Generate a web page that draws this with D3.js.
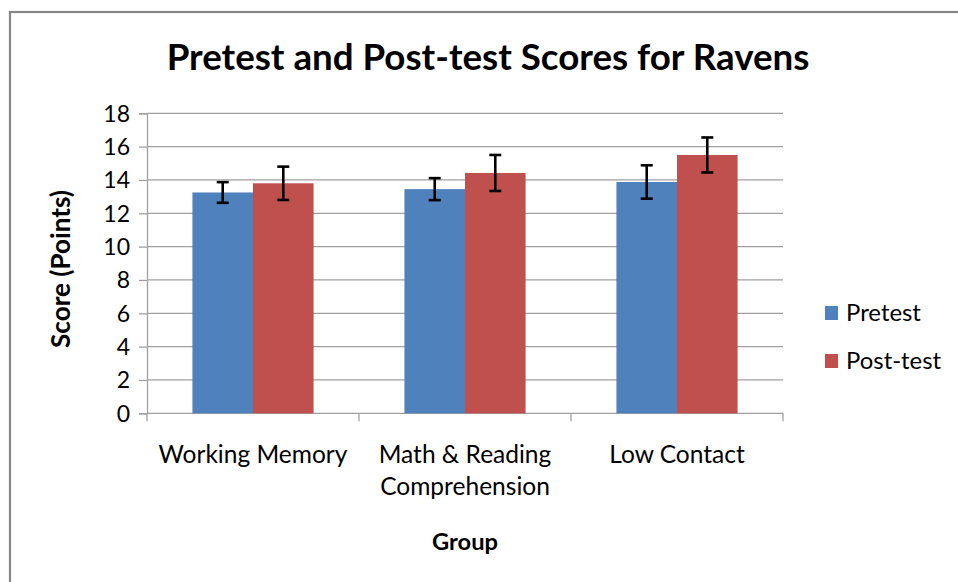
<!DOCTYPE html>
<html>
<head>
<meta charset="utf-8">
<script src="https://cdn.jsdelivr.net/npm/d3@7"></script>
<style>
  body { margin: 0; background: #fff; }
  text { font-family: Lato, "Noto Sans", sans-serif; fill: #000; }
</style>
</head>
<body>
<div id="chart"></div>
<script>
// data
const groups = ["Working Memory", "Math & Reading Comprehension", "Low Contact"];
const series = ["Pretest", "Post-test"];
const pretest = [13.25, 13.45, 13.88];
const posttest = [13.8, 14.42, 15.5];
const pretestErr = [0.62, 0.66, 1.0];
const posttestErr = [1.0, 1.08, 1.05];
const yTicks = [0, 2, 4, 6, 8, 10, 12, 14, 16, 18];
const colors = ["#4F81BD", "#C0504D"];

const W = 958, H = 582;
const margin = {top: 113.3, right: 175, bottom: 168.7, left: 147};
const width = W - margin.left - margin.right,
      height = H - margin.top - margin.bottom;

const svg = d3.select("#chart").append("svg")
  .attr("width", W)
  .attr("height", H);

// outer frame
svg.append("rect")
  .attr("x", 10).attr("y", 12)
  .attr("width", W + 20).attr("height", H + 20)
  .attr("fill", "none")
  .attr("stroke", "#878787")
  .attr("stroke-width", 2.2);

// shrink/grow a text's font so it covers a given width
function fit(sel, target) {
  const fs = parseFloat(sel.style("font-size"));
  const w = sel.node().getComputedTextLength();
  const nfs = fs * target / w;
  sel.style("font-size", nfs + "px");
  return nfs;
}

const g = svg.append("g")
  .attr("transform", `translate(${margin.left},${margin.top})`);

const x0 = d3.scaleBand().domain(groups).range([0, width]).paddingInner(0).paddingOuter(0);
// gap width 150% of a bar: 2 bars + 1.5 bar gap per group
const x1 = d3.scaleBand().domain(series).range([x0.bandwidth() * 0.75 / 3.5, x0.bandwidth() * (1 - 0.75 / 3.5)]);
const y = d3.scaleLinear().domain([0, 18]).range([height, 0]);

// gridlines
g.append("g").selectAll("line")
  .data(yTicks.filter(d => d > 0))
  .join("line")
    .attr("x1", 0).attr("x2", width)
    .attr("y1", d => y(d)).attr("y2", d => y(d))
    .attr("stroke", "#a0a0a0")
    .attr("stroke-width", 1.3);

// y axis
const yAxis = g.append("g")
  .call(d3.axisLeft(y).tickValues(yTicks).tickSize(8).tickPadding(9));
yAxis.select(".domain").attr("stroke", "#a0a0a0").attr("stroke-width", 1.3);
yAxis.selectAll(".tick line").attr("stroke", "#a0a0a0").attr("stroke-width", 1.3);
yAxis.selectAll(".tick text").style("font-size", "23px").attr("font-family", null).attr("dy", "0.34em");

// x axis with ticks at group boundaries
const xAxis = g.append("g").attr("transform", `translate(0,${height})`);
xAxis.append("line")
  .attr("x1", 0).attr("x2", width)
  .attr("stroke", "#a0a0a0").attr("stroke-width", 1.3);
xAxis.selectAll(".xt")
  .data(d3.range(groups.length + 1))
  .join("line")
    .attr("class", "xt")
    .attr("x1", i => i * x0.step()).attr("x2", i => i * x0.step())
    .attr("y1", 0).attr("y2", 8)
    .attr("stroke", "#a0a0a0").attr("stroke-width", 1.3);

const labelLines = [["Working Memory"], ["Math & Reading", "Comprehension"], ["Low Contact"]];
let catSize = 24;
groups.forEach((grp, i) => {
  const t = xAxis.append("text")
    .attr("text-anchor", "middle")
    .attr("x", x0(grp) + x0.bandwidth() / 2)
    .attr("y", 50)
    .style("font-size", catSize + "px");
  labelLines[i].forEach((ln, j) => {
    t.append("tspan")
      .attr("x", x0(grp) + x0.bandwidth() / 2)
      .attr("dy", j === 0 ? 0 : 32)
      .text(ln);
  });
  if (i === 0) catSize = fit(t, 189);
});

// bars
const rows = groups.map((grp, i) => ({
  group: grp,
  vals: [
    {s: series[0], v: pretest[i], e: pretestErr[i], c: colors[0]},
    {s: series[1], v: posttest[i], e: posttestErr[i], c: colors[1]}
  ]
}));

const grp = g.selectAll(".grp")
  .data(rows)
  .join("g")
    .attr("class", "grp")
    .attr("transform", d => `translate(${x0(d.group)},0)`);

grp.selectAll("rect")
  .data(d => d.vals)
  .join("rect")
    .attr("x", d => x1(d.s))
    .attr("y", d => y(d.v))
    .attr("width", x1.bandwidth())
    .attr("height", d => height - y(d.v))
    .attr("fill", d => d.c);

// error bars
const eb = grp.selectAll(".err")
  .data(d => d.vals)
  .join("g")
    .attr("class", "err")
    .attr("stroke", "#000")
    .attr("stroke-width", 2.6);
eb.append("line")
  .attr("x1", d => x1(d.s) + x1.bandwidth() / 2).attr("x2", d => x1(d.s) + x1.bandwidth() / 2)
  .attr("y1", d => y(d.v + d.e)).attr("y2", d => y(d.v - d.e));
eb.append("line")
  .attr("x1", d => x1(d.s) + x1.bandwidth() / 2 - 6).attr("x2", d => x1(d.s) + x1.bandwidth() / 2 + 6)
  .attr("y1", d => y(d.v + d.e)).attr("y2", d => y(d.v + d.e));
eb.append("line")
  .attr("x1", d => x1(d.s) + x1.bandwidth() / 2 - 6).attr("x2", d => x1(d.s) + x1.bandwidth() / 2 + 6)
  .attr("y1", d => y(d.v - d.e)).attr("y2", d => y(d.v - d.e));

// title
const title = svg.append("text")
  .attr("x", 488).attr("y", 70)
  .attr("text-anchor", "middle")
  .style("font-size", "32px")
  .style("font-weight", "bold")
  .text("Pretest and Post-test Scores for Ravens");
fit(title, 643);

// axis titles
const yTitle = svg.append("text")
  .attr("transform", "translate(70,269) rotate(-90)")
  .attr("text-anchor", "middle")
  .style("font-size", "24px")
  .style("font-weight", "bold")
  .text("Score (Points)");
fit(yTitle, 158);

const xTitle = svg.append("text")
  .attr("x", 465).attr("y", 550)
  .attr("text-anchor", "middle")
  .style("font-size", "24px")
  .style("font-weight", "bold")
  .text("Group");
fit(xTitle, 66);

// legend
const legend = svg.append("g").attr("transform", "translate(825,306)");
series.forEach((s, i) => {
  legend.append("rect")
    .attr("x", 0).attr("y", i * 48)
    .attr("width", 13).attr("height", 14)
    .attr("fill", colors[i]);
  const t = legend.append("text")
    .attr("x", 21).attr("y", i * 48 + 15)
    .style("font-size", "24px")
    .text(s);
  if (i === 0) fit(t, 75);
  else t.style("font-size", legend.select("text").style("font-size"));
});
</script>
</body>
</html>
